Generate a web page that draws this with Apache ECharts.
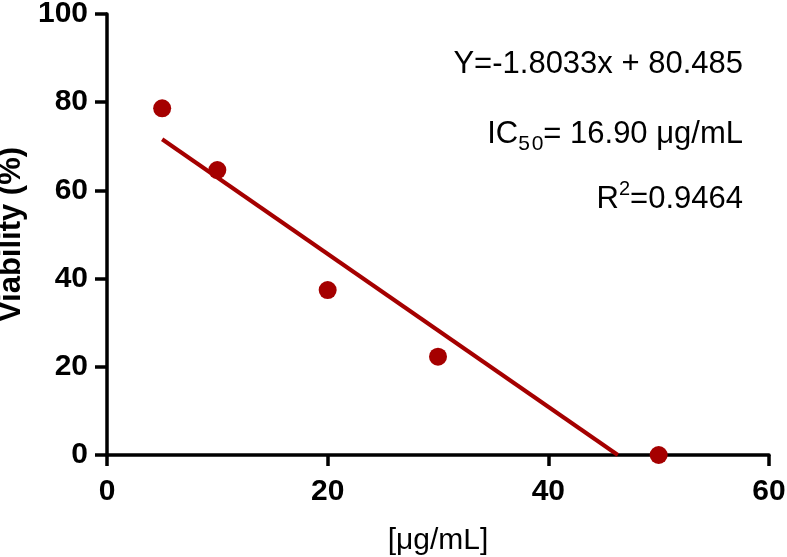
<!DOCTYPE html>
<html>
<head>
<meta charset="utf-8">
<script src="https://cdn.jsdelivr.net/npm/echarts@6/dist/echarts.min.js"></script>
<style>
  html, body { margin: 0; padding: 0; background: #fff; }
  #chart { width: 787px; height: 557px; }
</style>
</head>
<body>
<div id="chart"></div>
<script>
// measured points
var doseX = [5, 10, 20, 30, 50];
var viabilityY = [78.6, 64.6, 37.4, 22.3, 0];
// fitted line as drawn (start / end)
var fitX = [5, 46.3];
var fitY = [71.6, 0];
var xTicks = [0, 20, 40, 60];
var yTicks = [0, 20, 40, 60, 80, 100];

var RED = '#a50000';
var FONT = '"Liberation Sans", Arial, sans-serif';

var chart = echarts.init(document.getElementById('chart'));

chart.setOption({
  animation: false,
  grid: {
    left: 107,
    right: 18,
    top: 14,
    bottom: 102,
    outerBoundsMode: 'none',
  },
  xAxis: {
    type: 'value',
    min: xTicks[0],
    max: xTicks[xTicks.length - 1],
    interval: 20,
    name: '[μg/mL]',
    nameLocation: 'middle',
    nameGap: 71,
    nameTextStyle: { fontFamily: FONT, fontSize: 30, color: '#000' },
    splitLine: { show: false },
    axisLine: { show: true, lineStyle: { color: '#000', width: 3.5 } },
    axisTick: { show: true, inside: false, length: 11, lineStyle: { color: '#000', width: 3.5 } },
    axisLabel: {
      margin: 22,
      fontFamily: FONT,
      fontWeight: 'bold',
      fontSize: 30,
      color: '#000',
    },
  },
  yAxis: {
    type: 'value',
    min: yTicks[0],
    max: yTicks[yTicks.length - 1],
    interval: 20,
    name: 'Viability (%)',
    nameLocation: 'middle',
    nameGap: 78,
    nameTextStyle: { fontFamily: FONT, fontSize: 31, fontWeight: 'bold', color: '#000' },
    splitLine: { show: false },
    axisLine: { show: true, lineStyle: { color: '#000', width: 3.5 } },
    axisTick: { show: true, inside: false, length: 12, lineStyle: { color: '#000', width: 3.5 } },
    axisLabel: {
      margin: 19,
      fontFamily: FONT,
      fontWeight: 'bold',
      fontSize: 30,
      color: '#000',
    },
  },
  series: [
    {
      type: 'line',
      data: fitX.map(function (x, i) { return [x, fitY[i]]; }),
      showSymbol: false,
      lineStyle: { color: RED, width: 4 },
      z: 2,
    },
    {
      type: 'scatter',
      data: doseX.map(function (x, i) { return [x, viabilityY[i]]; }),
      symbol: 'circle',
      symbolSize: 18,
      itemStyle: { color: RED, opacity: 1 },
      z: 3,
    },
  ],
  graphic: [
    {
      type: 'text',
      right: 44,
      top: 44,
      style: {
        text: 'Y=-1.8033x + 80.485',
        fontFamily: FONT,
        fontSize: 31,
        lineHeight: 40,
        fill: '#000',
      },
    },
    {
      type: 'text',
      right: 44,
      top: 119,
      style: {
        text: '{m|IC}{sub|5\u200a0}{m|= 16.90 μg/mL}',
        fill: '#000',
        rich: {
          m: { fontFamily: FONT, fontSize: 31, lineHeight: 40, fill: '#000' },
          sub: { fontFamily: FONT, fontSize: 21, lineHeight: 20, verticalAlign: 'bottom', fill: '#000' },
        },
      },
    },
    {
      type: 'text',
      right: 44,
      top: 179,
      style: {
        text: '{m|R}{sup|2}{m|=0.9464}',
        fill: '#000',
        rich: {
          m: { fontFamily: FONT, fontSize: 31, lineHeight: 40, fill: '#000' },
          sup: { fontFamily: FONT, fontSize: 20, lineHeight: 24, verticalAlign: 'top', fill: '#000' },
        },
      },
    },
  ],
});
</script>
</body>
</html>
